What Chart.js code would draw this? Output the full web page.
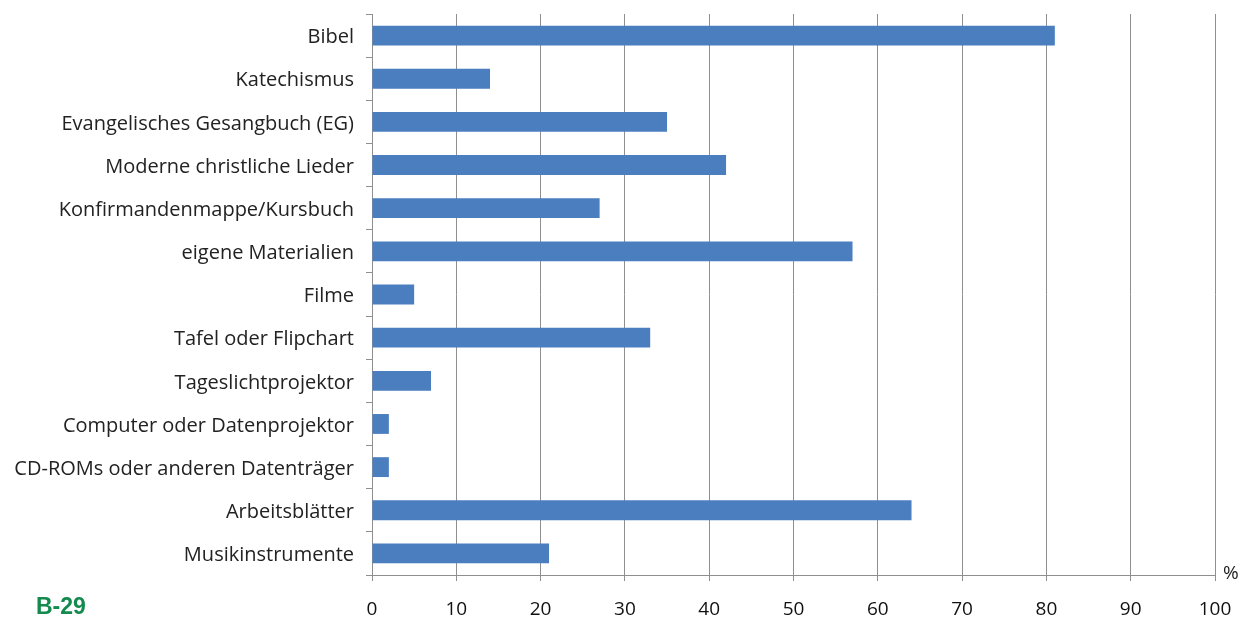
<!DOCTYPE html>
<html>
<head>
<meta charset="utf-8">
<script src="https://cdn.jsdelivr.net/npm/chart.js@4/dist/chart.umd.min.js"></script>
<style>
html,body{margin:0;padding:0;background:#fff;}
#wrap{width:1241px;height:617px;position:relative;}
</style>
</head>
<body>
<div id="wrap"><canvas id="c" width="1241" height="617"></canvas></div>
<script>
const categories = [
  "Bibel",
  "Katechismus",
  "Evangelisches Gesangbuch (EG)",
  "Moderne christliche Lieder",
  "Konfirmandenmappe/Kursbuch",
  "eigene Materialien",
  "Filme",
  "Tafel oder Flipchart",
  "Tageslichtprojektor",
  "Computer oder Datenprojektor",
  "CD-ROMs oder anderen Datenträger",
  "Arbeitsblätter",
  "Musikinstrumente"
];
const values = [81, 14, 35, 42, 27, 57, 5, 33, 7, 2, 2, 64, 21];
const xTicks = [0, 10, 20, 30, 40, 50, 60, 70, 80, 90, 100];
const unitLabel = "%";
const chartCode = "B-29";

const gridColor = "#8f8f8f";
const yFont = {family: "'Open Sans', sans-serif", size: 20};
const xFont = {family: "'Open Sans', sans-serif", size: 19};

const extraText = {
  id: 'extraText',
  afterDraw(chart) {
    const ctx = chart.ctx;
    const xs = chart.scales.x;
    ctx.save();
    ctx.fillStyle = "#222";
    ctx.font = "19px 'Open Sans', sans-serif";
    ctx.textAlign = "left";
    ctx.textBaseline = "middle";
    ctx.fillText(unitLabel, xs.right + 8, xs.top - 1);
    ctx.fillStyle = "#158a4f";
    ctx.font = "bold 23px 'Liberation Sans', Arial, sans-serif";
    ctx.textAlign = "left";
    ctx.textBaseline = "middle";
    ctx.fillText(chartCode, 36, 608);
    ctx.restore();
  }
};

new Chart(document.getElementById('c'), {
  type: 'bar',
  data: {
    labels: categories,
    datasets: [{
      data: values,
      backgroundColor: "#4a7ebf",
      borderWidth: 0,
      barPercentage: 0.46,
      categoryPercentage: 1
    }]
  },
  plugins: [extraText],
  options: {
    indexAxis: 'y',
    responsive: false,
    animation: false,
    devicePixelRatio: 1,
    layout: {padding: {left: 0, right: 26, top: 14, bottom: 0}},
    plugins: {legend: {display: false}, tooltip: {enabled: false}},
    scales: {
      x: {
        type: 'linear',
        min: 0,
        max: 100,
        afterBuildTicks(scale) { scale.ticks = xTicks.map(v => ({value: v})); },
        afterFit(scale) { scale.height = 42; scale.paddingLeft = 0; scale.paddingRight = 0; },
        ticks: {color: "#111", font: xFont, padding: 17},
        grid: {color: gridColor, lineWidth: 1, tickLength: 6, drawOnChartArea: true},
        border: {display: true, color: gridColor, width: 1}
      },
      y: {
        type: 'category',
        offset: true,
        afterFit(scale) { scale.width = 372; scale.paddingTop = 0; scale.paddingBottom = 0; },
        ticks: {color: "#222", font: yFont, padding: 12, autoSkip: false, labelOffset: 2},
        grid: {color: gridColor, lineWidth: 1, tickLength: 6, drawOnChartArea: false, offset: true},
        border: {display: true, color: gridColor, width: 1}
      }
    }
  }
});
</script>
</body>
</html>
